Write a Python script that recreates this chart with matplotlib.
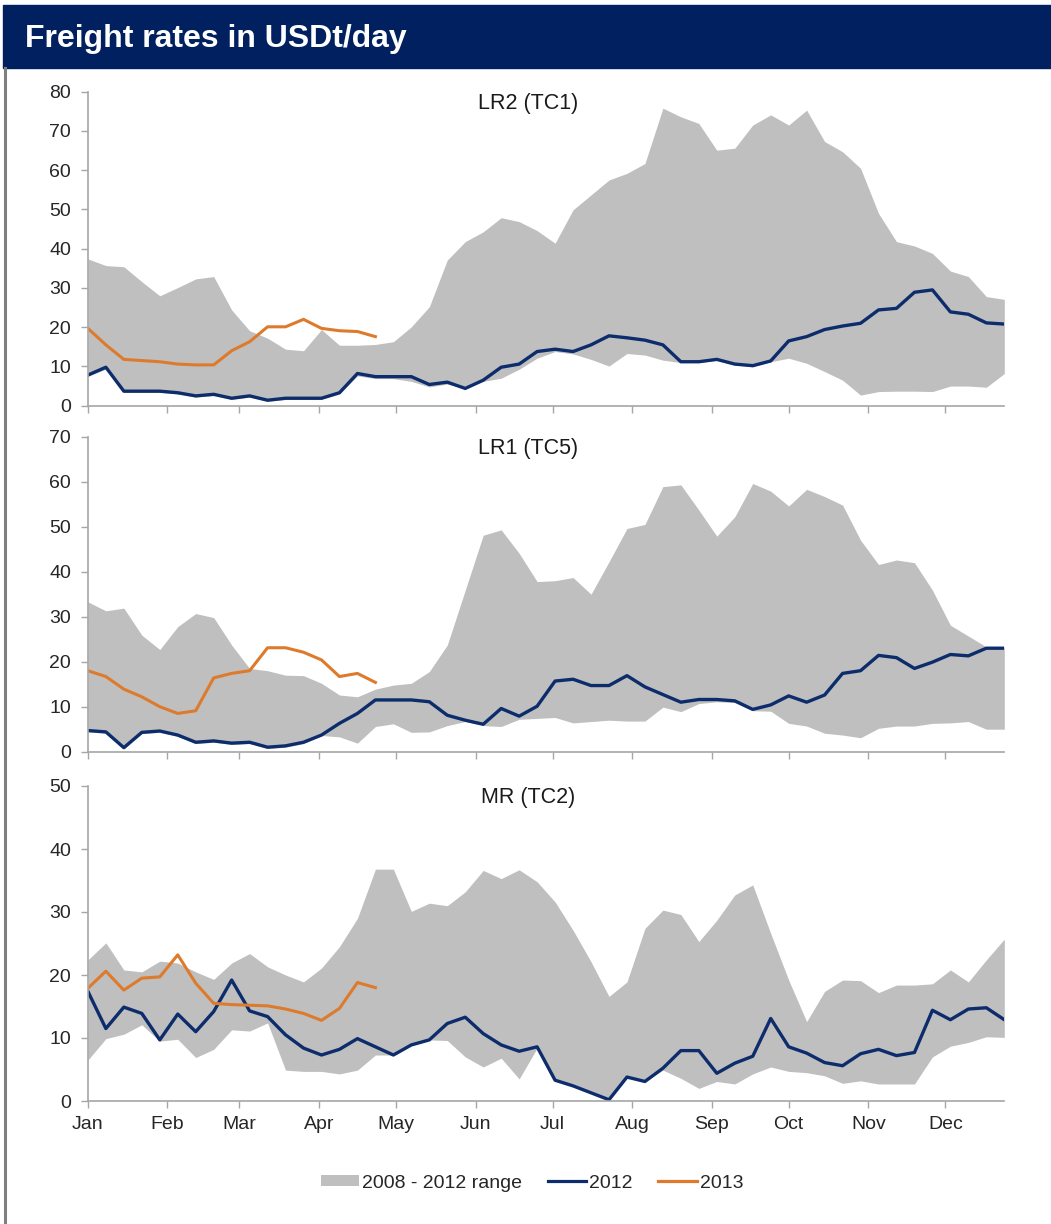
import matplotlib

matplotlib.use("Agg")

import matplotlib.pyplot as plt
import numpy as np
from matplotlib.lines import Line2D
from matplotlib.patches import Patch, Rectangle

# weekly observations, week 0 = first week of January
MONTH_LABELS = ["Jan", "Feb", "Mar", "Apr", "May", "Jun",
                "Jul", "Aug", "Sep", "Oct", "Nov", "Dec"]
MONTH_START_DAYS = [0, 31, 59, 90, 120, 151, 181, 212, 243, 273, 304, 334]

# LR2 (TC1)
lr2_upper = [37.4, 35.7, 35.4, 31.6, 28.0, 30.1, 32.3, 32.9, 24.4, 19.1,
             17.2, 14.4, 14.0, 19.4, 15.4, 15.4, 15.6, 16.3, 20.1, 25.2,
             37.1, 41.8, 44.3, 47.9, 46.9, 44.6, 41.4, 49.9, 53.7, 57.5,
             59.2, 61.7, 75.8, 73.6, 71.9, 65.1, 65.6, 71.5, 74.1, 71.5,
             75.3, 67.3, 64.7, 60.5, 49.0, 41.8, 40.7, 38.8, 34.3, 32.9,
             27.8, 27.1]
lr2_lower = [7.5, 9.3, 3.4, 3.4, 3.4, 3.0, 2.2, 2.6, 1.6, 2.2,
             1.1, 1.6, 1.6, 1.6, 3.0, 7.6, 6.9, 6.9, 6.2, 4.8,
             5.5, 4.4, 6.2, 7.0, 9.3, 12.1, 13.8, 13.2, 11.8, 10.1,
             13.3, 12.9, 11.6, 11.0, 11.0, 11.6, 10.4, 9.9, 11.2, 12.1,
             10.8, 8.7, 6.5, 2.7, 3.6, 3.7, 3.7, 3.6, 5.0, 5.0,
             4.7, 8.2]
lr2_2012 = [7.8, 9.8, 3.7, 3.7, 3.7, 3.3, 2.5, 2.9, 1.9, 2.5,
            1.4, 1.9, 1.9, 1.9, 3.3, 8.2, 7.4, 7.4, 7.4, 5.4,
            6.0, 4.4, 6.5, 9.8, 10.6, 13.8, 14.4, 13.8, 15.5, 17.8,
            17.3, 16.7, 15.5, 11.2, 11.2, 11.8, 10.6, 10.2, 11.4, 16.5,
            17.6, 19.4, 20.3, 21.0, 24.4, 24.8, 28.9, 29.5, 23.9, 23.3,
            21.1, 20.8]
lr2_2013 = [19.7, 15.5, 11.8, 11.5, 11.2, 10.6, 10.4, 10.4, 14.0, 16.3,
            20.1, 20.1, 22.0, 19.7, 19.1, 18.9, 17.6]

# LR1 (TC5)
lr1_upper = [33.3, 31.3, 31.9, 25.9, 22.7, 27.8, 30.7, 29.8, 23.7, 18.5,
             18.0, 17.0, 16.9, 15.2, 12.6, 12.2, 13.9, 14.8, 15.2, 17.8,
             23.7, 35.9, 48.1, 49.3, 44.1, 37.8, 38.0, 38.7, 35.0, 42.2,
             49.6, 50.5, 58.9, 59.3, 53.7, 47.9, 52.2, 59.6, 57.9, 54.6,
             58.3, 56.7, 54.8, 47.0, 41.6, 42.6, 42.0, 35.9, 28.1, 25.7,
             23.3, 23.3]
lr1_lower = [4.4, 4.1, 0.6, 4.0, 4.3, 3.4, 1.8, 2.1, 1.6, 1.8,
             0.7, 1.0, 1.8, 3.6, 3.3, 1.9, 5.6, 6.2, 4.3, 4.4,
             5.8, 6.7, 5.8, 5.6, 7.2, 7.4, 7.6, 6.4, 6.7, 7.0,
             6.8, 6.8, 9.9, 8.9, 10.7, 11.1, 10.9, 9.1, 9.0, 6.3,
             5.7, 4.1, 3.7, 3.1, 5.2, 5.7, 5.7, 6.3, 6.4, 6.7,
             5.0, 5.0]
lr1_2012 = [4.7, 4.4, 0.9, 4.3, 4.6, 3.7, 2.1, 2.4, 1.9, 2.1,
            1.0, 1.3, 2.1, 3.7, 6.3, 8.5, 11.5, 11.5, 11.5, 11.1,
            8.1, 7.0, 6.1, 9.6, 7.9, 10.1, 15.7, 16.1, 14.7, 14.7,
            16.9, 14.4, 12.7, 11.0, 11.6, 11.6, 11.3, 9.4, 10.4, 12.4,
            11.0, 12.6, 17.4, 18.0, 21.4, 20.9, 18.5, 19.9, 21.6, 21.3,
            23.0, 23.0]
lr1_2013 = [18.0, 16.7, 13.9, 12.2, 10.0, 8.5, 9.1, 16.4, 17.4, 18.0,
            23.1, 23.1, 22.1, 20.4, 16.7, 17.4, 15.4]

# MR (TC2)
mr_upper = [22.4, 25.1, 20.8, 20.5, 22.2, 21.9, 20.5, 19.3, 21.9, 23.4,
            21.3, 20.0, 18.9, 21.1, 24.5, 29.0, 36.8, 36.8, 30.1, 31.4,
            31.0, 33.2, 36.6, 35.3, 36.7, 34.8, 31.6, 27.1, 22.1, 16.6,
            18.9, 27.4, 30.3, 29.6, 25.3, 28.7, 32.7, 34.3, 26.6, 19.2,
            12.6, 17.4, 19.2, 19.1, 17.2, 18.4, 18.4, 18.6, 20.8, 18.9,
            22.4, 25.7]
mr_lower = [6.5, 9.9, 10.6, 12.1, 9.5, 9.8, 6.9, 8.2, 11.3, 11.1,
            12.4, 4.9, 4.7, 4.7, 4.3, 4.9, 7.3, 7.3, 8.9, 9.7,
            9.6, 7.0, 5.4, 6.8, 3.5, 8.4, 3.3, 2.4, 1.3, 0.2,
            3.8, 3.1, 4.9, 3.6, 2.0, 3.1, 2.7, 4.3, 5.4, 4.7,
            4.5, 4.0, 2.8, 3.2, 2.7, 2.7, 2.7, 7.0, 8.7, 9.3,
            10.2, 10.1]
mr_2012 = [17.4, 11.5, 14.9, 13.9, 9.7, 13.8, 11.0, 14.2, 19.2, 14.3,
           13.4, 10.5, 8.4, 7.3, 8.2, 9.9, 8.6, 7.3, 8.9, 9.7,
           12.3, 13.3, 10.7, 8.9, 7.9, 8.6, 3.3, 2.4, 1.3, 0.2,
           3.8, 3.1, 5.2, 8.0, 8.0, 4.4, 6.0, 7.1, 13.1, 8.6,
           7.6, 6.1, 5.6, 7.5, 8.2, 7.2, 7.7, 14.4, 12.9, 14.6,
           14.8, 12.9]
mr_2013 = [17.9, 20.6, 17.6, 19.5, 19.7, 23.2, 18.7, 15.5, 15.3, 15.2,
           15.1, 14.6, 13.9, 12.8, 14.7, 18.8, 18.0]

RANGE_COLOR = "#bfbfbf"
COLOR_2012 = "#0c2c6c"
COLOR_2013 = "#de7a2c"
AXIS_COLOR = "#a6a6a6"
TEXT_COLOR = "#262626"
HEADER_COLOR = "#002060"

FIG_W, FIG_H = 1051, 1224


def week_days(values):
    return np.arange(len(values)) * 7


def draw_panel(ax, title, upper, lower, values_2012, values_2013, y_max, show_months):
    ax.fill_between(week_days(upper), lower, upper, color=RANGE_COLOR, linewidth=0)
    ax.plot(week_days(values_2012), values_2012, color=COLOR_2012, linewidth=2.4)
    ax.plot(week_days(values_2013), values_2013, color=COLOR_2013, linewidth=2.2)

    ax.set_xlim(0, 357)
    ax.set_ylim(0, y_max)
    ax.set_yticks(range(0, y_max + 1, 10))
    ax.set_xticks(MONTH_START_DAYS)
    ax.set_xticklabels(MONTH_LABELS)

    for side in ("top", "right"):
        ax.spines[side].set_visible(False)
    for side in ("left", "bottom"):
        ax.spines[side].set_color(AXIS_COLOR)
        ax.spines[side].set_linewidth(1.2)

    ax.tick_params(axis="both", direction="out", length=5, width=1,
                   color=AXIS_COLOR, labelcolor=TEXT_COLOR, labelsize=14)
    ax.tick_params(axis="y", pad=7)
    ax.tick_params(axis="x", pad=6, labelbottom=show_months)

    ax.text(0.48, 0.945, title, transform=ax.transAxes, ha="center", va="baseline",
            fontsize=15.5, color="#1a1a1a")


def px_axes(fig, left, right, top, bottom):
    return fig.add_axes([left / FIG_W, 1 - bottom / FIG_H,
                         (right - left) / FIG_W, (bottom - top) / FIG_H])


plt.rcParams["font.family"] = ["Liberation Sans", "DejaVu Sans"]

fig = plt.figure(figsize=(FIG_W / 100, FIG_H / 100), dpi=100)

# header band and left border
fig.patches.append(Rectangle((3 / FIG_W, 1 - 68 / FIG_H), 1, 63 / FIG_H,
                             transform=fig.transFigure, color=HEADER_COLOR, zorder=0))
fig.lines.append(Line2D([5 / FIG_W, 5 / FIG_W], [0, 1 - 68 / FIG_H],
                        transform=fig.transFigure, color="#7f7f7f", linewidth=2.2))
fig.text(25 / FIG_W, 1 - 47 / FIG_H, "Freight rates in USDt/day", color="white",
         fontsize=23, fontweight="bold", ha="left", va="baseline")

ax_lr2 = px_axes(fig, 87.9, 1004.3, 91.7, 405.7)
ax_lr1 = px_axes(fig, 87.9, 1004.3, 436.7, 751.7)
ax_mr = px_axes(fig, 87.9, 1004.3, 786.0, 1101.0)

draw_panel(ax_lr2, "LR2 (TC1)", lr2_upper, lr2_lower, lr2_2012, lr2_2013, 80, False)
draw_panel(ax_lr1, "LR1 (TC5)", lr1_upper, lr1_lower, lr1_2012, lr1_2013, 70, False)
draw_panel(ax_mr, "MR (TC2)", mr_upper, mr_lower, mr_2012, mr_2013, 50, True)

legend_handles = [
    Patch(color=RANGE_COLOR, linewidth=0),
    Line2D([], [], color=COLOR_2012, linewidth=2.3),
    Line2D([], [], color=COLOR_2013, linewidth=2.3),
]
fig.legend(legend_handles, ["2008 - 2012 range", "2012", "2013"],
           loc="center", bbox_to_anchor=(532 / FIG_W, 1 - 1183 / FIG_H), ncol=3,
           frameon=False, fontsize=14, handlelength=2.0, handleheight=0.5,
           handletextpad=0.15, columnspacing=1.3, labelcolor=TEXT_COLOR)

fig.savefig("out.png", dpi=100)
plt.close(fig)
